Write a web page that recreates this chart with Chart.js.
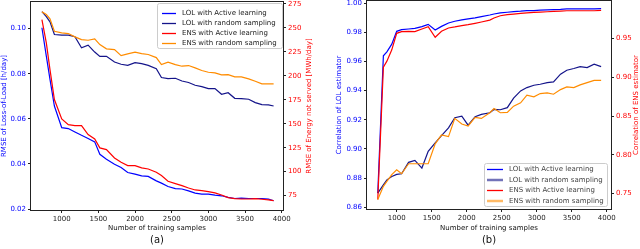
<!DOCTYPE html>
<html>
<head>
<meta charset="utf-8">
<script src="https://cdn.jsdelivr.net/npm/chart.js@4.4.0/dist/chart.umd.min.js"></script>
<style>
	body { margin: 0; background: #fff; width: 640px; height: 249px; overflow: hidden; }
	.panel { position: absolute; top: 0; width: 320px; height: 249px; }
</style>
</head>
<body>
<div class="panel" style="left: 0;"><canvas id="rmse"></canvas></div>
<div class="panel" style="left: 320px;"><canvas id="corr"></canvas></div>

<script type="text/javascript">
	// (a) RMSE vs number of training samples
	var xA = [730, 790, 840, 900, 1000, 1090, 1180, 1270, 1360, 1450, 1520, 1610, 1720, 1810, 1900, 2000, 2090, 2180, 2290,
		2360, 2450, 2550, 2640, 2730, 2820, 2910, 3000, 3090, 3180, 3270, 3360, 3450, 3550, 3640, 3730, 3820, 3890];
	var lolActiveA = [0.1004, 0.0878, 0.0775, 0.0657, 0.0561, 0.0557, 0.0542, 0.0527, 0.0513, 0.0498, 0.0443, 0.0421, 0.0399, 0.0384, 0.0362, 0.0355, 0.0347, 0.0345, 0.0325,
		0.0315, 0.0300, 0.0291, 0.0289, 0.0281, 0.0271, 0.0266, 0.0266, 0.0262, 0.0259, 0.0252, 0.0247, 0.0249, 0.0247, 0.0247, 0.0247, 0.0244, 0.0237];
	var lolRandomA = [0.1075, 0.1053, 0.1030, 0.0974, 0.0971, 0.0971, 0.0964, 0.0915, 0.0927, 0.0896, 0.0877, 0.0877, 0.0852, 0.0842, 0.0837, 0.0849, 0.0845, 0.0837, 0.0822,
		0.0783, 0.0778, 0.0780, 0.0768, 0.0761, 0.0749, 0.0743, 0.0734, 0.0734, 0.0709, 0.0716, 0.0691, 0.0690, 0.0687, 0.0672, 0.0663, 0.0662, 0.0657];
	var ensActiveA = [258.7, 234.4, 206.5, 175.2, 155.0, 149.1, 148.1, 148.1, 138.7, 134.2, 124.8, 123.0, 114.3, 109.8, 106.3, 106.3, 103.9, 102.8, 99.4,
		95.9, 90.0, 87.5, 85.4, 83.0, 80.9, 80.2, 79.2, 77.8, 75.7, 72.9, 71.9, 71.5, 71.5, 71.9, 71.2, 70.5, 69.8];
	var ensRandomA = [266.7, 263.9, 259.4, 246.5, 244.8, 244.1, 240.6, 237.8, 237.1, 238.5, 232.6, 228.1, 227.4, 221.1, 222.9, 224.6, 223.2, 222.2, 219.0,
		211.7, 214.2, 211.7, 210.0, 210.7, 208.3, 205.5, 203.7, 203.0, 201.0, 201.3, 198.9, 198.9, 196.8, 194.3, 191.6, 191.6, 191.6];

	// (b) correlation vs number of training samples
	var xB = [730, 810, 860, 930, 1000, 1070, 1170, 1260, 1360, 1450, 1550, 1640, 1740, 1830, 1930, 2020, 2120, 2210, 2330,
		2390, 2480, 2580, 2670, 2770, 2860, 2960, 3050, 3150, 3240, 3340, 3430, 3530, 3620, 3720, 3820, 3920];
	var lolActiveB = [0.8697, 0.9639, 0.9666, 0.9719, 0.9807, 0.9818, 0.9823, 0.9827, 0.9839, 0.9855, 0.9816, 0.9841, 0.9864, 0.9876, 0.9885, 0.9892, 0.9899, 0.9908, 0.9919,
		0.9926, 0.9933, 0.9938, 0.9942, 0.9945, 0.9949, 0.9949, 0.9952, 0.9954, 0.9956, 0.9958, 0.9961, 0.9961, 0.9961, 0.9961, 0.9961, 0.9963];
	var lolRandomB = [0.8697, 0.8754, 0.8788, 0.8811, 0.8825, 0.8830, 0.8908, 0.8922, 0.8869, 0.8984, 0.9041, 0.9092, 0.9145, 0.9214, 0.9225, 0.9163, 0.9221, 0.9237, 0.9248,
		0.9271, 0.9269, 0.9283, 0.9349, 0.9398, 0.9421, 0.9437, 0.9444, 0.9455, 0.9460, 0.9513, 0.9540, 0.9552, 0.9565, 0.9558, 0.9581, 0.9565];
	var ensActiveB = [0.7423, 0.9132, 0.9209, 0.9355, 0.9568, 0.9590, 0.9594, 0.9590, 0.9624, 0.9654, 0.9517, 0.9594, 0.9637, 0.9650, 0.9667, 0.9680, 0.9697, 0.9714, 0.9739,
		0.9765, 0.9795, 0.9808, 0.9816, 0.9825, 0.9833, 0.9838, 0.9842, 0.9846, 0.9850, 0.9855, 0.9859, 0.9859, 0.9859, 0.9859, 0.9859, 0.9863];
	var ensRandomB = [0.7423, 0.7594, 0.7658, 0.7744, 0.7808, 0.7756, 0.7885, 0.7885, 0.7885, 0.7885, 0.8141, 0.8256, 0.8235, 0.8470, 0.8397, 0.8372, 0.8483, 0.8470, 0.8543,
		0.8598, 0.8543, 0.8547, 0.8628, 0.8671, 0.8769, 0.8748, 0.8791, 0.8799, 0.8782, 0.8842, 0.8876, 0.8868, 0.8902, 0.8932, 0.8961, 0.8961];

	// Подписи осей и делений
	var xTicks = [1000, 1500, 2000, 2500, 3000, 3500, 4000];
	var ticksAleft = [0.02, 0.04, 0.06, 0.08, 0.10];
	var ticksAright = [75, 100, 125, 150, 175, 200, 225, 250, 275];
	var ticksBleft = [0.86, 0.88, 0.90, 0.92, 0.94, 0.96, 0.98, 1.00];
	var ticksBright = [0.75, 0.80, 0.85, 0.90, 0.95];
	var seriesNames = ["LOL with Active learning", "LOL with random sampling", "ENS with Active learning", "ENS with random sampling"];
	var seriesColors = ["#0000ff", "#14148a", "#ff0000", "#ff8c00"];
	var seriesAxes = ["yl", "yl", "yr", "yr"];

	var FONT = '"DejaVu Sans"';
	Chart.defaults.font.family = FONT;
	Chart.defaults.font.size = 7;

	function pts(xs, ys){
		return xs.map(function(x, i){ return {x: x, y: ys[i]}; });
	}

	function datasets(xs, lists){
		return lists.map(function(ys, i){
			return {
				label: seriesNames[i],
				data: pts(xs, ys),
				yAxisID: seriesAxes[i],
				borderColor: seriesColors[i],
				backgroundColor: seriesColors[i],
				borderWidth: 1.2,
				pointRadius: 0,
				tension: 0,
				order: 4 - i // ENS поверх LOL, как twin-оси
			};
		});
	}

	// Фиксированные деления вместо автоматических
	function fixed(list){
		return function(s){ s.ticks = list.map(function(v){ return {value: v}; }); };
	}

	function axis(pos, min, max, list, color, size, fmt){
		var horiz = pos == "bottom";
		return {
			type: "linear",
			position: pos,
			min: min,
			max: max,
			afterBuildTicks: fixed(list),
			afterFit: function(s){
				if(horiz) s.height = size; else s.width = size;
				s.paddingLeft = 0; s.paddingRight = 0; s.paddingTop = 0; s.paddingBottom = 0;
			},
			ticks: {
				color: color,
				padding: 2,
				autoSkip: false,
				maxRotation: 0,
				font: {size: 7, family: FONT},
				callback: fmt
			},
			grid: {drawOnChartArea: false, drawTicks: true, tickLength: 3, color: "#222", lineWidth: 1},
			border: {display: false}
		};
	}

	// Рамка, подписи осей, легенда
	var deco = {
		id: "deco",
		afterDraw: function(chart, args, o){
			var ctx = chart.ctx, a = chart.chartArea;
			ctx.save();
			ctx.strokeStyle = "#222";
			ctx.lineWidth = 1;
			ctx.strokeRect(a.left - 0.5, a.top - 0.5, a.right - a.left + 1, a.bottom - a.top + 1);

			ctx.font = "7px " + FONT;
			ctx.textAlign = "center";
			ctx.textBaseline = "middle";
			var cy = (a.top + a.bottom) / 2, cx = (a.left + a.right) / 2;
			[[o.leftTitle, o.leftX, "#0000ff"], [o.rightTitle, o.rightX, "#ff0000"]].forEach(function(t){
				ctx.save();
				ctx.translate(t[1], cy);
				ctx.rotate(-Math.PI / 2);
				ctx.fillStyle = t[2];
				ctx.fillText(t[0], 0, 0);
				ctx.restore();
			});
			ctx.fillStyle = "#111";
			ctx.fillText(o.xTitle, cx, o.xTitleY);
			ctx.font = "10px " + FONT;
			ctx.fillText(o.tag, cx, o.tagY);

			var L = o.legend;
			ctx.beginPath();
			ctx.roundRect(L.x + 0.5, L.y + 0.5, L.w, L.h, 2);
			ctx.fillStyle = "rgba(255,255,255,0.85)";
			ctx.fill();
			ctx.strokeStyle = "#cccccc";
			ctx.stroke();
			ctx.font = "7px " + FONT;
			ctx.textAlign = "left";
			chart.data.datasets.forEach(function(d, i){
				var y = L.y + L.first + i * L.step;
				ctx.save();
				if(L.fat && i % 2 == 1){ ctx.globalAlpha = 0.6; ctx.lineWidth = 2.5; }
				else ctx.lineWidth = 1.3;
				ctx.strokeStyle = d.borderColor;
				ctx.beginPath();
				ctx.moveTo(L.x + L.hx, y);
				ctx.lineTo(L.x + L.hx + L.hw, y);
				ctx.stroke();
				ctx.restore();
				ctx.fillStyle = L.text;
				ctx.fillText(d.label, L.x + L.tx, y);
			});
			ctx.restore();
		}
	};

	var two = function(v){ return v.toFixed(2); };
	var plain = function(v){ return String(v); };

	new Chart(document.getElementById("rmse"), {
		type: "line",
		data: {datasets: datasets(xA, [lolActiveA, lolRandomA, ensActiveA, ensRandomA])},
		options: {
			responsive: true,
			maintainAspectRatio: false,
			animation: false,
			devicePixelRatio: 1,
			layout: {padding: {top: 2, left: 0, right: 0, bottom: 0}},
			scales: {
				x: axis("bottom", 581, 4018, xTicks, "#222", 39, plain),
				yl: axis("left", 0.0196, 0.1118, ticksAleft, "#0000ff", 31, two),
				yr: axis("right", 60, 277, ticksAright, "#ff0000", 37, plain)
			},
			plugins: {
				legend: {display: false},
				tooltip: {enabled: false},
				deco: {
					leftTitle: "RMSE of Loss-of-Load [h/day]", leftX: 4,
					rightTitle: "RMSE of Energy not served [MWh/day]", rightX: 309,
					xTitle: "Number of training samples", xTitleY: 228.5,
					tag: "(a)", tagY: 240.5,
					legend: {x: 157, y: 3, w: 125, h: 45, first: 10.5, step: 10, hx: 5, hw: 14, tx: 25, fat: false, text: "#222"}
				}
			}
		},
		plugins: [deco]
	});

	new Chart(document.getElementById("corr"), {
		type: "line",
		data: {datasets: datasets(xB, [lolActiveB, lolRandomB, ensActiveB, ensRandomB])},
		options: {
			responsive: true,
			maintainAspectRatio: false,
			animation: false,
			devicePixelRatio: 1,
			layout: {padding: {top: 1, left: 0, right: 0, bottom: 0}},
			scales: {
				x: axis("bottom", 576, 4061, xTicks, "#222", 40, plain),
				yl: axis("left", 0.8588, 1.0015, ticksBleft, "#0000ff", 47, two),
				yr: axis("right", 0.7301, 0.9985, ticksBright, "#ff0000", 29, two)
			},
			plugins: {
				legend: {display: false},
				tooltip: {enabled: false},
				deco: {
					leftTitle: "Correlation of LOL estimator", leftX: 19.5,
					rightTitle: "Correlation of ENS estimator", rightX: 316,
					xTitle: "Number of training samples", xTitleY: 228.5,
					tag: "(b)", tagY: 240.5,
					legend: {x: 164, y: 163, w: 123, h: 43, first: 6.5, step: 10.5, hx: 3, hw: 16, tx: 25, fat: true, text: "#444"}
				}
			}
		},
		plugins: [deco]
	});
</script>
</body>
</html>
